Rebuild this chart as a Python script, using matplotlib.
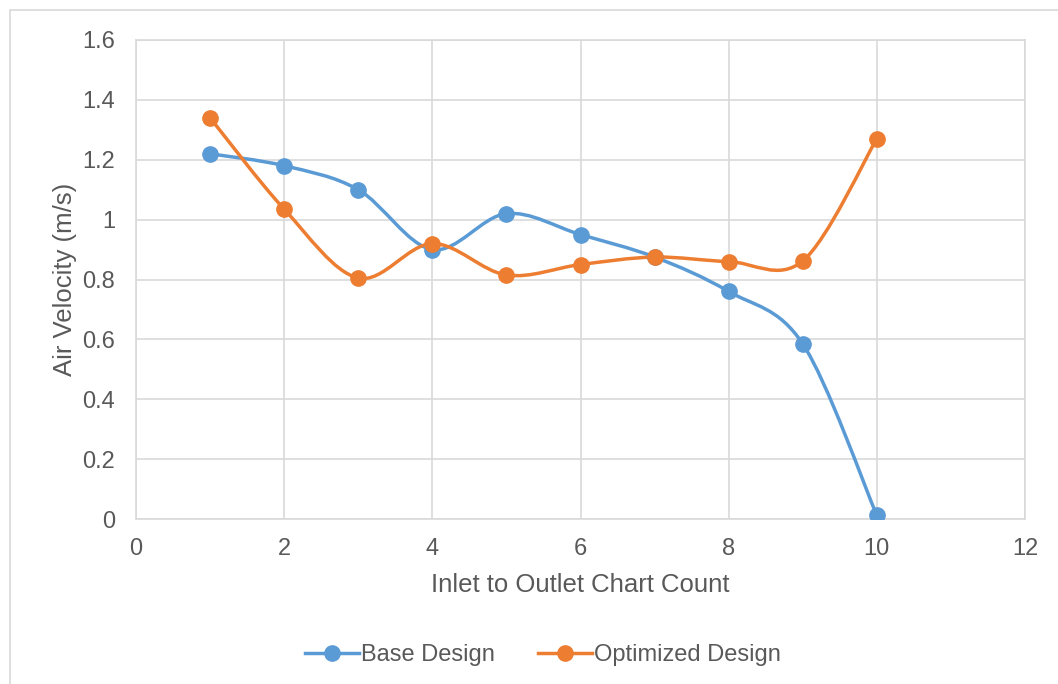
import numpy as np
import matplotlib.pyplot as plt
from matplotlib.path import Path
from matplotlib.patches import PathPatch, Rectangle
from matplotlib.lines import Line2D

plt.rcParams["font.family"] = ["Liberation Sans", "DejaVu Sans"]

chart_count = [1, 2, 3, 4, 5, 6, 7, 8, 9, 10]
base_design = [1.22, 1.18, 1.10, 0.90, 1.02, 0.95, 0.875, 0.76, 0.585, 0.012]
optimized_design = [1.34, 1.035, 0.805, 0.92, 0.815, 0.85, 0.875, 0.86, 0.862, 1.27]

BLUE = "#5b9bd5"
ORANGE = "#ed7d31"
TEXT = "#595959"
GRID = "#d9d9d9"


def smooth_path(x, y):
    # Excel-style smoothed line: cubic Bezier through each point
    x = np.asarray(x, float)
    y = np.asarray(y, float)
    n = len(x)
    verts = [(x[0], y[0])]
    codes = [Path.MOVETO]
    for i in range(n - 1):
        x0, y0 = (x[i - 1], y[i - 1]) if i > 0 else (x[i], y[i])
        x3, y3 = (x[i + 2], y[i + 2]) if i + 2 < n else (x[i + 1], y[i + 1])
        c1 = (x[i] + (x[i + 1] - x0) / 6, y[i] + (y[i + 1] - y0) / 6)
        c2 = (x[i + 1] - (x3 - x[i]) / 6, y[i + 1] - (y3 - y[i]) / 6)
        verts += [c1, c2, (x[i + 1], y[i + 1])]
        codes += [Path.CURVE4] * 3
    return Path(verts, codes)


fig = plt.figure(figsize=(10.58, 6.84), dpi=100)
ax = fig.add_axes([136 / 1058, 1 - 519 / 684, (1025 - 136) / 1058, (519 - 40) / 684])

fig.patches.append(Rectangle((10 / 1058, -0.1), 1.2, 1 - 10 / 684 + 0.1,
                             transform=fig.transFigure, fill=False,
                             edgecolor=GRID, linewidth=1.2))

for ys, col in [(base_design, BLUE), (optimized_design, ORANGE)]:
    ax.add_patch(PathPatch(smooth_path(chart_count, ys), fill=False,
                           edgecolor=col, linewidth=2.5, capstyle="round", zorder=3))
    ax.plot(chart_count, ys, linestyle="none", marker="o", markersize=11,
            color=col, zorder=4)

ax.set_xlim(0, 12)
ax.set_ylim(0, 1.6)
ax.set_xticks(np.arange(0, 13, 2))
ax.set_yticks(np.arange(0, 1.61, 0.2))
ax.set_yticklabels(["0", "0.2", "0.4", "0.6", "0.8", "1", "1.2", "1.4", "1.6"])
ax.grid(True, color=GRID, linewidth=1.2)
ax.set_axisbelow(True)
for s in ax.spines.values():
    s.set_color(GRID)
    s.set_linewidth(1.2)
ax.tick_params(length=0, labelsize=17, colors=TEXT)
ax.tick_params(axis="y", pad=15)
ax.tick_params(axis="x", pad=14)

ax.set_xlabel("Inlet to Outlet Chart Count", fontsize=18.5, color=TEXT, labelpad=9)
ax.set_ylabel("Air Velocity (m/s)", fontsize=18.5, color=TEXT, labelpad=4)

handles = [Line2D([], [], color=BLUE, linewidth=2.5, marker="o", markersize=11),
           Line2D([], [], color=ORANGE, linewidth=2.5, marker="o", markersize=11)]
fig.legend(handles, ["Base Design", "Optimized Design"], loc="center",
           bbox_to_anchor=(543 / 1058, 1 - 655 / 684), ncol=2, frameon=False,
           fontsize=17, labelcolor=TEXT, handlelength=2.3, handletextpad=0.1,
           columnspacing=1.8)

fig.savefig("out.png", dpi=100)
